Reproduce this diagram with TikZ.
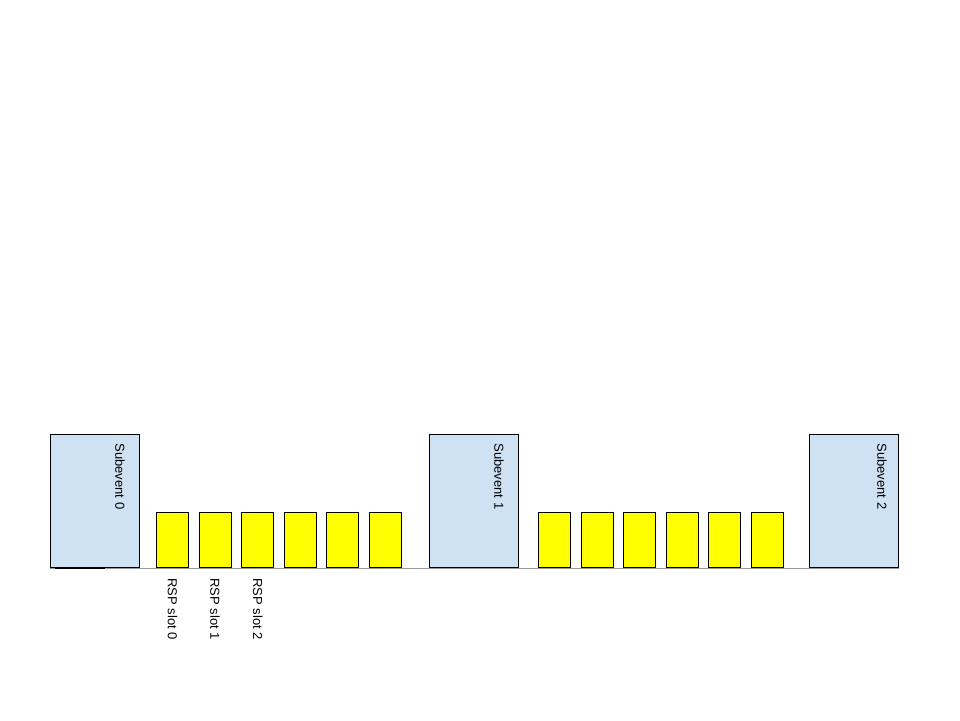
\documentclass[tikz,border=0pt]{standalone}
\usepackage{fontspec}
\setmainfont{Liberation Sans}
\usetikzlibrary{positioning}
\definecolor{subblue}{HTML}{CFE2F3}
\definecolor{slotyellow}{HTML}{FFFF00}
\definecolor{linegray}{HTML}{999999}

\begin{document}
\begin{tikzpicture}[x=1pt, y=-1pt,
    line width=1pt,
    subevent/.style={
    draw,
    fill=subblue,
    anchor=north west,
    inner sep=0pt,
    minimum width=89pt,
    minimum height=133pt},
    slotbox/.style={
    draw,
    fill=slotyellow,
    anchor=south west,
    inner sep=0pt,
    minimum width=32pt,
    minimum height=55pt},
    vtext/.style={
    draw=none,
    rotate=-90,
    anchor=west,
    inner sep=0pt,
    font=\fontsize{13}{15}\selectfont}]

    \useasboundingbox (0,0) rectangle (960,720);

    % subevents
    \node[subevent] (sub0) at (50,434) {};
    \node[subevent] (sub1) at (429,434) {};
    \node[subevent] (sub2) at (809,434) {};

    % time line
    \draw[linegray] (sub0.south west) -- (sub2.south east);
    \coordinate (tick0) at (55,568);
    \coordinate (tick1) at (105,568);
    \draw[line width=1.5pt] (tick0) -- (tick1);

    \node[vtext] (sublabel0) at ([xshift=-20pt, yshift=-9pt]sub0.north east) {Subevent 0};
    \node[vtext] (sublabel1) at ([xshift=-20pt, yshift=-9pt]sub1.north east) {Subevent 1};
    \node[vtext] (sublabel2) at ([xshift=-17pt, yshift=-9pt]sub2.north east) {Subevent 2};

    % RSP slots
    \foreach \i in {0,...,5} {
        \node[slotbox] (slotA\i) at (156+42.6*\i,568) {};
        \node[slotbox] (slotB\i) at (538+42.6*\i,568) {};
    }

    \node[vtext] (rsp0) at ([yshift=-10pt]slotA0.south) {RSP slot 0};
    \node[vtext] (rsp1) at ([yshift=-10pt]slotA1.south) {RSP slot 1};
    \node[vtext] (rsp2) at ([yshift=-10pt]slotA2.south) {RSP slot 2};
\end{tikzpicture}
\end{document}
